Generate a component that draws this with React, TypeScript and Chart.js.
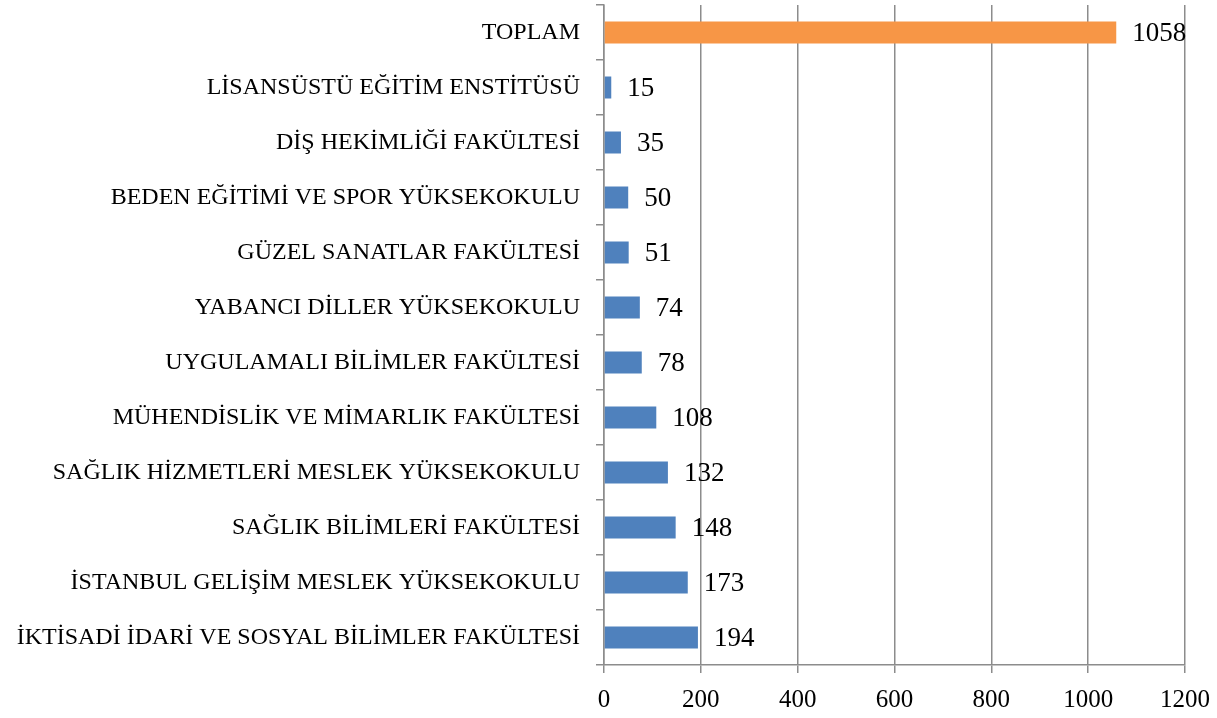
import React, { useEffect, useRef } from "react";
import { Chart, registerables } from "chart.js";

Chart.register(...registerables);

const categories: string[] = [
  "TOPLAM",
  "LİSANSÜSTÜ EĞİTİM ENSTİTÜSÜ",
  "DİŞ HEKİMLİĞİ FAKÜLTESİ",
  "BEDEN EĞİTİMİ VE SPOR YÜKSEKOKULU",
  "GÜZEL SANATLAR FAKÜLTESİ",
  "YABANCI DİLLER YÜKSEKOKULU",
  "UYGULAMALI BİLİMLER FAKÜLTESİ",
  "MÜHENDİSLİK VE MİMARLIK FAKÜLTESİ",
  "SAĞLIK HİZMETLERİ MESLEK YÜKSEKOKULU",
  "SAĞLIK BİLİMLERİ FAKÜLTESİ",
  "İSTANBUL GELİŞİM MESLEK YÜKSEKOKULU",
  "İKTİSADİ İDARİ VE SOSYAL BİLİMLER FAKÜLTESİ",
];

const values: number[] = [1058, 15, 35, 50, 51, 74, 78, 108, 132, 148, 173, 194];

const xTicks: number[] = [0, 200, 400, 600, 800, 1000, 1200];

const FONT = "'Liberation Serif', 'DejaVu Serif', serif";
const TOTAL_COLOR = "#F79646";
const BAR_COLOR = "#4F81BD";
const GRID_COLOR = "#8C8C8C";

const valueLabelPlugin = {
  id: "valueLabels",
  afterDatasetsDraw(chart: any) {
    const ctx = chart.ctx;
    const meta = chart.getDatasetMeta(0);
    const data = chart.data.datasets[0].data as number[];
    ctx.save();
    ctx.fillStyle = "#000";
    ctx.font = `27px ${FONT}`;
    ctx.textAlign = "left";
    ctx.textBaseline = "middle";
    meta.data.forEach((bar: any, i: number) => {
      ctx.fillText(String(data[i]), bar.x + 16, bar.y + 1);
    });
    ctx.restore();
  },
};

export default function App() {
  const ref = useRef<HTMLCanvasElement | null>(null);

  useEffect(() => {
    document.body.style.margin = "0";
    if (!ref.current) return;
    const chart = new Chart(ref.current, {
      type: "bar",
      data: {
        labels: categories,
        datasets: [
          {
            data: values,
            backgroundColor: values.map((_, i) => (i === 0 ? TOTAL_COLOR : BAR_COLOR)),
            borderWidth: 0,
            barPercentage: 0.4,
            categoryPercentage: 1,
          },
        ],
      },
      options: {
        indexAxis: "y",
        animation: false,
        responsive: true,
        maintainAspectRatio: false,
        layout: { padding: { left: 0, top: 5, right: 32, bottom: 0 } },
        plugins: {
          legend: { display: false },
          tooltip: { enabled: false },
        },
        scales: {
          x: {
            min: 0,
            max: 1200,
            afterBuildTicks: (scale: any) => {
              scale.ticks = xTicks.map((v) => ({ value: v }));
            },
            afterFit: (scale: any) => {
              scale.height = 53;
              scale.paddingLeft = 0;
              scale.paddingRight = 0;
            },
            grid: {
              color: GRID_COLOR,
              lineWidth: 1.5,
              drawTicks: true,
              tickLength: 8,
              tickColor: GRID_COLOR,
            },
            border: { display: true, color: GRID_COLOR, width: 1.5 },
            ticks: {
              color: "#000",
              font: { family: FONT, size: 25 },
              padding: 12,
              maxRotation: 0,
              callback: (v: any) => String(v),
            },
          },
          y: {
            afterFit: (scale: any) => {
              scale.width = 604;
              scale.paddingTop = 0;
              scale.paddingBottom = 0;
            },
            grid: {
              display: true,
              drawOnChartArea: false,
              drawTicks: true,
              tickLength: 8,
              tickColor: GRID_COLOR,
              lineWidth: 1.5,
              offset: true,
            },
            border: { display: true, color: GRID_COLOR, width: 1.5 },
            ticks: {
              color: "#000",
              font: { family: FONT, size: 24 },
              padding: 16,
              autoSkip: false,
            },
          },
        },
      },
      plugins: [valueLabelPlugin],
    });
    return () => chart.destroy();
  }, []);

  return (
    <div style={{ position: "fixed", left: 0, top: 0, width: 1217, height: 718 }}>
      <canvas ref={ref} />
    </div>
  );
}
